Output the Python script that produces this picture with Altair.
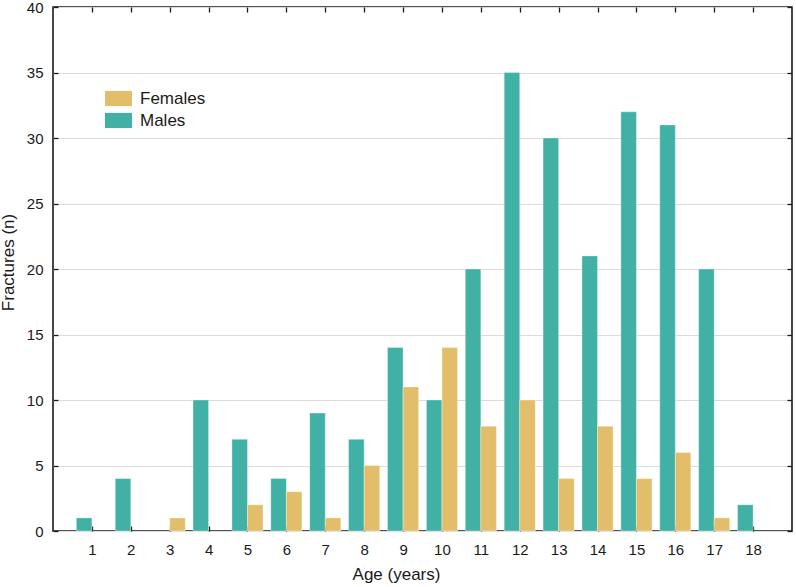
import altair as alt
import pandas as pd

ages = list(range(1, 19))
males = [1, 4, 0, 10, 7, 4, 9, 7, 14, 10, 20, 35, 30, 21, 32, 31, 20, 2]
females = [0, 0, 1, 0, 2, 3, 1, 5, 11, 14, 8, 10, 4, 8, 4, 6, 1, 0]
series = ["Females", "Males"]
colors = ["#E2BE6A", "#41B0A5"]
y_ticks = [0, 5, 10, 15, 20, 25, 30, 35, 40]

rows = []
for a, m, f in zip(ages, males, females):
    rows.append({"age": a, "sex": "Males", "n": m, "side": -1})
    rows.append({"age": a, "sex": "Females", "n": f, "side": 1})
df = pd.DataFrame(rows)

FONT = "Liberation Sans"
INK = "#1a1a1a"

base = (
    alt.Chart(df)
    .transform_filter("datum.n > 0")
    .transform_calculate(
        x0="datum.side < 0 ? datum.age - 0.4 : datum.age",
        x1="datum.side < 0 ? datum.age : datum.age + 0.4",
        n0="0",
    )
)

xscale = alt.Scale(domain=[0, 19], nice=False, zero=False)
yscale = alt.Scale(domain=[0, 40], nice=False)

common_axis = dict(
    domain=False, offset=-5, tickSize=5, tickColor=INK, tickWidth=1.3,
)

bars = base.mark_bar(stroke="white", strokeOpacity=0.35, strokeWidth=1).encode(
    x=alt.X(
        "x0:Q", scale=xscale,
        axis=alt.Axis(
            orient="bottom", values=ages, grid=False, title="Age (years)",
            labelPadding=11, titlePadding=9, labelFontSize=15, titleFontSize=17,
            titleX=343, **common_axis,
        ),
    ),
    x2="x1:Q",
    y=alt.Y(
        "n:Q", scale=yscale,
        axis=alt.Axis(
            orient="left", values=y_ticks, grid=True, gridColor="#dcdcdc", gridWidth=1.2,
            title="Fractures (n)", labelPadding=10, titlePadding=9,
            labelFontSize=15, titleFontSize=17, titleY=255, **common_axis,
        ),
    ),
    y2="n0:Q",
    color=alt.Color(
        "sex:N",
        scale=alt.Scale(domain=series, range=colors),
        legend=alt.Legend(
            title=None, orient="none", legendX=52, legendY=78,
            symbolType="M-1,-0.56H1V0.56H-1Z", symbolSize=729,
            symbolStrokeWidth=0, symbolOpacity=1,
            labelFontSize=17, labelOffset=8, rowPadding=0,
            labelFont=FONT, labelColor=INK,
        ),
    ),
)

frame = base.mark_bar(opacity=0).encode(
    x=alt.X(
        "x0:Q", scale=xscale,
        axis=alt.Axis(orient="top", values=ages, grid=False, labels=False, title=None, **common_axis),
    ),
    x2="x1:Q",
    y=alt.Y(
        "n:Q", scale=yscale,
        axis=alt.Axis(orient="right", values=y_ticks, grid=False, labels=False, title=None, **common_axis),
    ),
    y2="n0:Q",
)

chart = (
    alt.layer(bars, frame)
    .resolve_axis(x="independent", y="independent")
    .properties(
        width=739, height=524,
        autosize=alt.AutoSizeParams(type="none"),
        padding={"left": 53, "top": 7, "right": 4, "bottom": 56},
        background="white",
    )
    .configure_view(stroke=INK, strokeWidth=1.6)
    .configure_axis(
        labelFont=FONT, titleFont=FONT, labelColor=INK, titleColor=INK,
        titleFontWeight="normal",
    )
    .configure_legend(labelFont=FONT)
)

chart.save("out.html", embed_options={"renderer": "svg", "actions": False})
